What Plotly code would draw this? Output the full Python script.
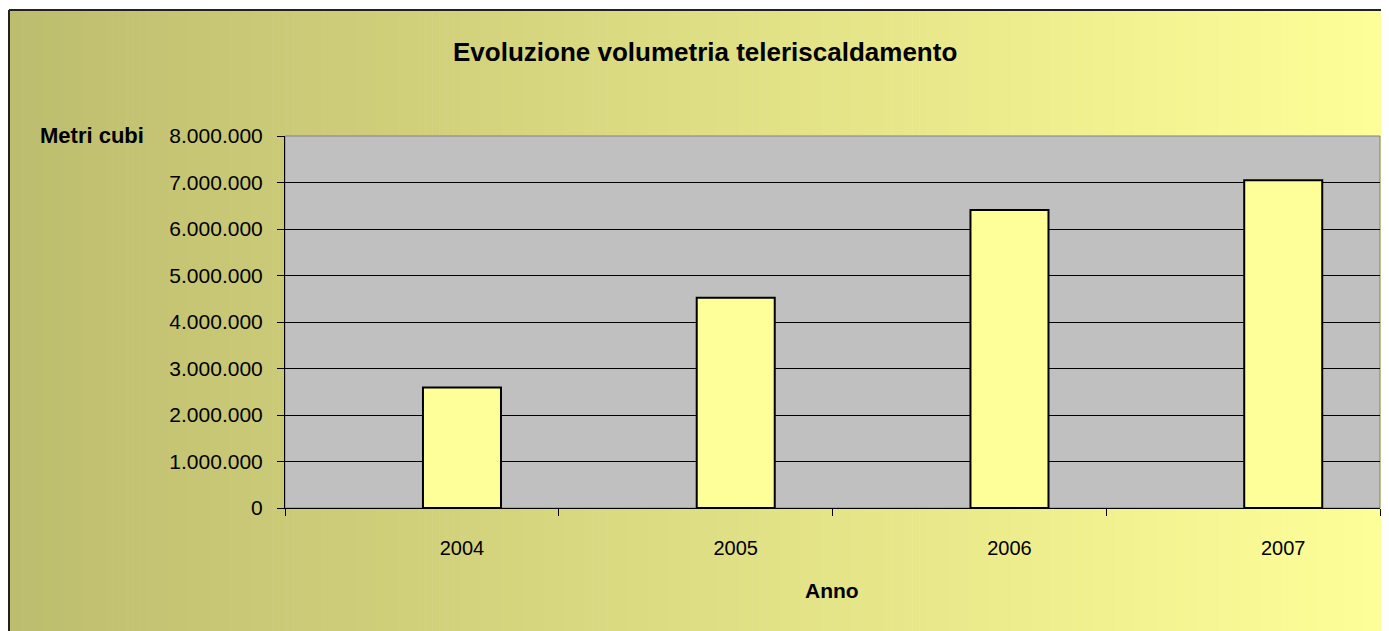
import plotly.graph_objects as go

years = ["2004", "2005", "2006", "2007"]
volumes = [2590000, 4520000, 6410000, 7050000]

title_text = "Evoluzione volumetria teleriscaldamento"
y_title = "Metri cubi"
x_title = "Anno"

W, H = 1389, 631
L, R, T, B = 277, 17, 128, 131
PW = W - L - R
PH = H - T - B

def px(x):
    return (x - L) / PW

def py(y):
    return (H - B - y) / PH

FONT = "Liberation Sans, Arial, sans-serif"

shapes = []
# horizontal gradient background (chart area)
n = 200
x_start, x_end = 0, W + 2
c0 = (189, 189, 111)
c1 = (255, 255, 153)
for i in range(n):
    a = x_start + (x_end - x_start) * i / n
    b = x_start + (x_end - x_start) * (i + 1) / n + 0.6
    t = (i + 0.5) / n
    col = tuple(round(c0[k] + (c1[k] - c0[k]) * t) for k in range(3))
    shapes.append(dict(type="rect", xref="paper", yref="paper",
                       x0=px(a), x1=px(b), y0=py(H + 5), y1=py(2),
                       fillcolor="rgb(%d,%d,%d)" % col, line=dict(width=0),
                       layer="below"))
# plot area grey
shapes.append(dict(type="rect", xref="paper", yref="paper", x0=0, x1=1, y0=0, y1=1,
                   fillcolor="#C0C0C0", line=dict(color="#808080", width=1), layer="below"))
# chart border (top and left)
shapes.append(dict(type="line", xref="paper", yref="paper", x0=px(1), x1=px(W + 5),
                   y0=py(2), y1=py(2), line=dict(color="#222222", width=2)))
shapes.append(dict(type="line", xref="paper", yref="paper", x0=px(1), x1=px(1),
                   y0=py(2), y1=py(H + 5), line=dict(color="#222222", width=2)))

fig = go.Figure()
fig.add_trace(go.Bar(
    x=years, y=volumes,
    marker=dict(color="#FFFF99", line=dict(color="black", width=2)),
    width=0.285, offset=0.004,
))

fig.update_layout(
    width=W, height=H,
    margin=dict(l=L, r=R, t=T, b=B, autoexpand=False),
    paper_bgcolor="white",
    plot_bgcolor="#C0C0C0",
    separators=",.",
    showlegend=False,
    shapes=shapes,
    font=dict(family=FONT, size=20, color="black"),
    annotations=[
        dict(text="<b>%s</b>" % title_text, xref="paper", yref="paper",
             x=px(697), y=py(44), xanchor="center", yanchor="middle",
             showarrow=False, font=dict(size=26, family=FONT)),
        dict(text="<b>%s</b>" % y_title, xref="paper", yref="paper",
             x=px(138), y=py(127), xanchor="right", yanchor="middle",
             showarrow=False, font=dict(size=22, family=FONT)),
        dict(text="<b>%s</b>" % x_title, xref="paper", yref="paper",
             x=px(824), y=py(582), xanchor="center", yanchor="middle",
             showarrow=False, font=dict(size=21, family=FONT)),
    ],
)

fig.update_xaxes(
    type="category", tickson="boundaries", ticks="outside", ticklen=7,
    tickcolor="black", showline=True, linecolor="black", linewidth=1,
    showgrid=False, ticklabelstandoff=22, ticklabelshift=40,
    tickfont=dict(size=20, family=FONT),
)
fig.update_yaxes(
    range=[0, 8000000], dtick=1000000, tickformat=",d",
    ticks="outside", ticklen=7, tickcolor="black",
    showline=True, linecolor="black", linewidth=1,
    showgrid=True, gridcolor="black", gridwidth=1, zeroline=False,
    ticklabelstandoff=10,
    tickfont=dict(size=21, family=FONT),
)

fig.write_html("out.html")
